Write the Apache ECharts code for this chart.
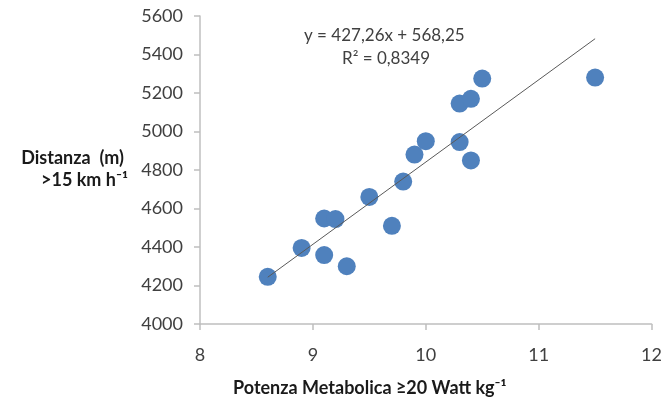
<!DOCTYPE html>
<html>
<head>
<meta charset="utf-8">
<script src="https://cdn.jsdelivr.net/npm/echarts@6/dist/echarts.min.js"></script>
<style>
  html, body { margin: 0; padding: 0; background: #fff; }
  #chart { width: 665px; height: 406px; }
</style>
</head>
<body>
<div id="chart"></div>
<script>
// values
const potenza = [8.6, 8.9, 9.1, 9.2, 9.1, 9.3, 9.5, 9.7, 9.8, 9.9, 10.0, 10.3, 10.3, 10.4, 10.4, 10.5, 11.5];
const distanza = [4245, 4395, 4548, 4545, 4358, 4300, 4660, 4510, 4740, 4880, 4950, 5145, 4945, 5170, 4850, 5275, 5280];
// trend line end points (y = 427,26x + 568,25 over the data range)
const trendX = [8.6, 11.5];
const trendY = [4243, 5482];
const xTicks = [8, 9, 10, 11, 12];
const yTicks = [4000, 4200, 4400, 4600, 4800, 5000, 5200, 5400, 5600];

const font = "Lato, 'Open Sans', sans-serif";
const axisGrey = "#bfbfbf";

const chart = echarts.init(document.getElementById("chart"));
chart.setOption({
  animation: false,
  grid: { left: 200, right: 11, top: 16, bottom: 82 },
  xAxis: {
    type: "value",
    min: xTicks[0],
    max: xTicks[xTicks.length - 1],
    interval: 1,
    axisLine: { show: true, lineStyle: { color: axisGrey, width: 1.5 } },
    axisTick: { show: true, length: 6, lineStyle: { color: axisGrey, width: 1.5 } },
    splitLine: { show: false },
    axisLabel: { color: "#404040", fontSize: 18, fontFamily: font, margin: 22 },
  },
  yAxis: {
    type: "value",
    min: yTicks[0],
    max: yTicks[yTicks.length - 1],
    interval: 200,
    axisLine: { show: true, lineStyle: { color: axisGrey, width: 1.5 } },
    axisTick: { show: true, length: 6, lineStyle: { color: axisGrey, width: 1.5 } },
    splitLine: { show: false },
    axisLabel: { color: "#404040", fontSize: 18, fontFamily: font, margin: 17, formatter: (v) => String(v) },
  },
  graphic: [
    {
      type: "text",
      right: 541, top: 149,
      style: { text: "Distanza  (m)", font: "bold 18px " + font, fill: "#1a1a1a" },
    },
    {
      type: "text",
      right: 537, top: 171,
      style: { text: ">15 km h\u207B\u00B9", font: "bold 18px " + font, fill: "#1a1a1a" },
    },
    {
      type: "text",
      left: 233, top: 379,
      style: { text: "Potenza Metabolica \u226520 Watt kg\u207B\u00B9", font: "bold 18px " + font, fill: "#1a1a1a" },
    },
    {
      type: "text",
      left: 304, top: 27,
      style: { text: "y = 427,26x + 568,25", font: "17px " + font, fill: "#404040" },
    },
    {
      type: "text",
      left: 342, top: 50,
      style: { text: "R\u00B2 = 0,8349", font: "17px " + font, fill: "#404040" },
    },
  ],
  series: [
    {
      type: "line",
      data: trendX.map((x, i) => [x, trendY[i]]),
      showSymbol: false,
      lineStyle: { color: "#595959", width: 1 },
      z: 3,
    },
    {
      type: "scatter",
      data: potenza.map((x, i) => [x, distanza[i]]),
      symbol: "circle",
      symbolSize: 18,
      itemStyle: { color: "#4f81bd", opacity: 1 },
      z: 2,
    },
  ],
});
</script>
</body>
</html>
